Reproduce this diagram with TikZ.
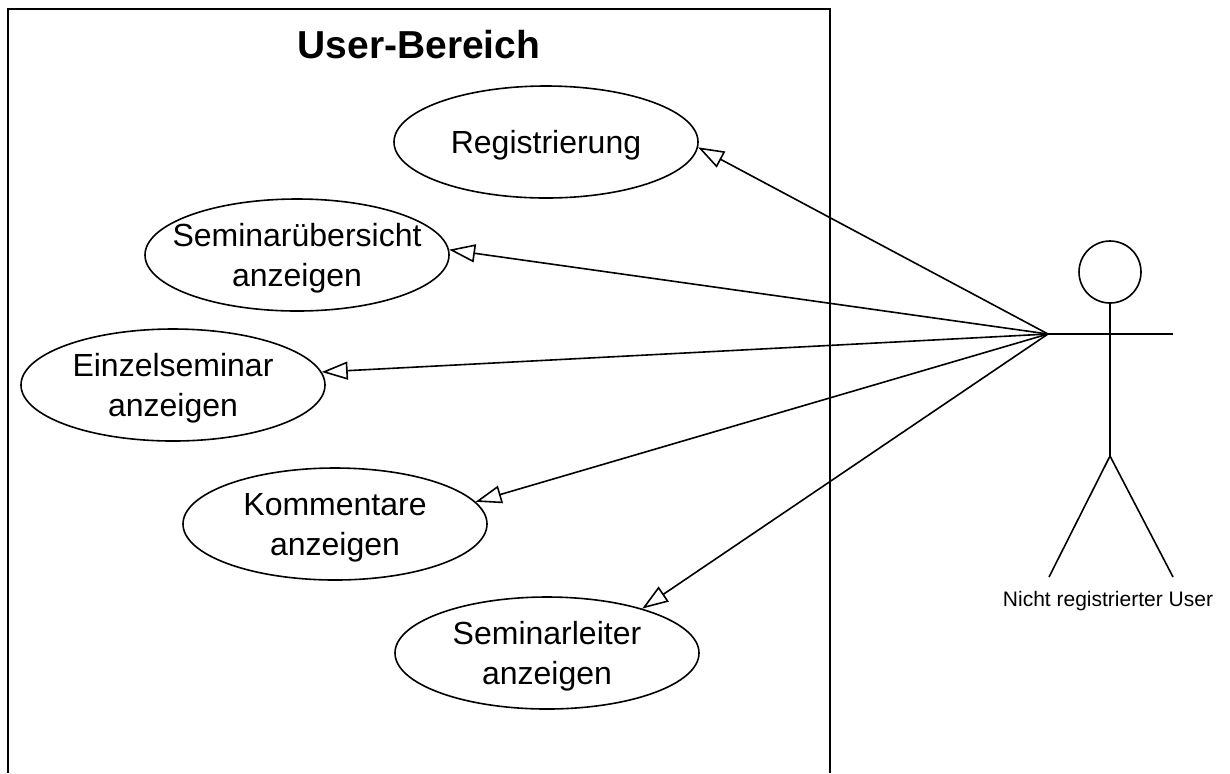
\documentclass[tikz,border=0pt]{standalone}
\usepackage{fontspec}
\setmainfont{Liberation Sans}
\usetikzlibrary{shapes.geometric,arrows.meta}
\begin{document}
\begin{tikzpicture}[x=0.5pt,y=-0.5pt,line width=0.8pt,
    usecase/.style={draw,ellipse,inner xsep=-14pt,inner ysep=0pt,minimum width=152pt,minimum height=56pt,
      text depth=0pt,align=center,font=\fontsize{16}{20}\selectfont},
    assoc/.style={-{Triangle[open,length=13pt,width=9pt]}}]
  \useasboundingbox (0,0) rectangle (1230,773);
  % system boundary
  \draw[line width=1pt] (8,773) -- (8,9) -- (830,9) -- (830,773);
  \node[font=\fontsize{19.5}{23}\selectfont\bfseries] (title) at (419,45) {User-Bereich};
  % use cases
  \node[usecase] (reg) at (546,142) {Registrierung};
  \node[usecase] (uebersicht) at (297,255) {Seminarübersicht\\anzeigen};
  \node[usecase] (einzel) at (173,385) {Einzelseminar\\anzeigen};
  \node[usecase] (komm) at (335,524) {Kommentare\\anzeigen};
  \node[usecase] (leiter) at (547,653) {Seminarleiter\\anzeigen};
  % actor
  \node[draw,circle,inner sep=0pt,minimum size=31pt] (head) at (1110,272) {};
  \coordinate (hand) at (1048,334);
  \coordinate (hip) at (1110,456);
  \draw (head.south) -- (hip);
  \draw (hand) -- (1173,334);
  \draw (1049,577) -- (hip) -- (1173,577);
  \node[font=\fontsize{10.5}{12}\selectfont] (user) at (1108,601) {Nicht registrierter User};
  % associations
  \foreach \uc/\ang in {reg/-2,uebersicht/2,einzel/5,komm/9,leiter/25}
    \draw[assoc] (hand) -- (\uc.\ang);
\end{tikzpicture}
\end{document}
